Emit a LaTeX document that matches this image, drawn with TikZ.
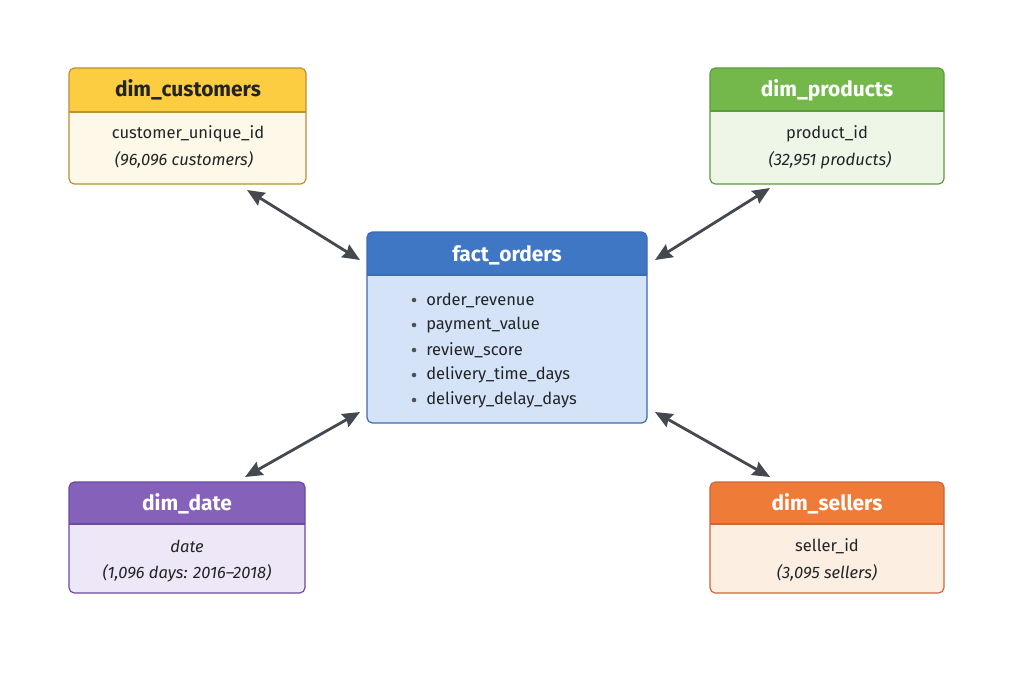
\documentclass[tikz,border=0pt]{standalone}
\usepackage{fontspec}
\setmainfont{Fira Sans}
\usetikzlibrary{arrows.meta,calc}
\definecolor{custHead}{HTML}{FCCD40}
\definecolor{custBody}{HTML}{FEF8E9}
\definecolor{custLine}{HTML}{B8913A}
\definecolor{prodHead}{HTML}{74B84C}
\definecolor{prodBody}{HTML}{EEF6E7}
\definecolor{prodLine}{HTML}{5E9A40}
\definecolor{factHead}{HTML}{3F77C4}
\definecolor{factBody}{HTML}{D4E3F7}
\definecolor{factLine}{HTML}{3A6DB3}
\definecolor{dateHead}{HTML}{8661BA}
\definecolor{dateBody}{HTML}{EEE7F7}
\definecolor{dateLine}{HTML}{6C4BA0}
\definecolor{sellHead}{HTML}{EE7C38}
\definecolor{sellBody}{HTML}{FDEEE2}
\definecolor{sellLine}{HTML}{C8693A}
\definecolor{txt}{HTML}{222428}
\definecolor{arr}{HTML}{43494F}
\tikzset{
  tbl/.style={rectangle, rounded corners=4pt, inner sep=0pt, outer sep=0pt, line width=0.9pt},
  headtxt/.style={font=\bfseries\fontsize{15.7}{18}\selectfont, inner sep=0pt},
  bodytxt/.style={font=\fontsize{12.4}{15}\selectfont, text=txt, inner sep=0pt},
  itxt/.style={font=\itshape\fontsize{12.4}{15}\selectfont, text=txt, inner sep=0pt},
  conn/.style={draw=arr, line width=2.1pt, {Stealth[length=13pt,width=11pt,inset=1.5pt]}-{Stealth[length=13pt,width=11pt,inset=1.5pt]}},
  dotb/.style={circle, fill=txt!80, inner sep=0pt, minimum size=3.4pt}
}
\begin{document}
\begin{tikzpicture}[x=0.75pt,y=-0.75pt]
\useasboundingbox[fill=white] (0,0) rectangle (1024,683);

% dim_customers
\node[tbl, fill=custBody, minimum width=177.75pt, minimum height=87pt] (cust) at (187.5,126) {};
\fill[custHead] ($(cust.north west)+(0,8)$) [rounded corners=4pt] -- (cust.north west) -- (cust.north east) [sharp corners] -- ($(cust.north east)+(0,44)$) -- ($(cust.north west)+(0,44)$) -- cycle;
\draw[custLine, line width=0.9pt] ($(cust.north west)+(0,44)$) -- ($(cust.north east)+(0,44)$);
\draw[custLine, tbl] (cust.south west) rectangle (cust.north east);
\node[headtxt, text=txt] (custh) at (188,90) {dim\_customers};
\node[bodytxt] (custb1) at (188,134) {customer\_unique\_id};
\node[itxt] (custb2) at (184,160) {(96,096 customers)};

% dim_products
\node[tbl, fill=prodBody, minimum width=175.5pt, minimum height=87pt] (prod) at (827,126) {};
\fill[prodHead] ($(prod.north west)+(0,8)$) [rounded corners=4pt] -- (prod.north west) -- (prod.north east) [sharp corners] -- ($(prod.north east)+(0,43)$) -- ($(prod.north west)+(0,43)$) -- cycle;
\draw[prodLine, line width=0.9pt] ($(prod.north west)+(0,43)$) -- ($(prod.north east)+(0,43)$);
\draw[prodLine, tbl] (prod.south west) rectangle (prod.north east);
\node[headtxt, text=white] (prodh) at (827,90) {dim\_products};
\node[bodytxt] (prodb1) at (827,134) {product\_id};
\node[itxt] (prodb2) at (830,160) {(32,951 products)};

% fact_orders
\node[tbl, fill=factBody, minimum width=210pt, minimum height=143.25pt] (fact) at (507,327.5) {};
\fill[factHead] ($(fact.north west)+(0,8)$) [rounded corners=4pt] -- (fact.north west) -- (fact.north east) [sharp corners] -- ($(fact.north east)+(0,43)$) -- ($(fact.north west)+(0,43)$) -- cycle;
\draw[factLine, line width=0.9pt] ($(fact.north west)+(0,43)$) -- ($(fact.north east)+(0,43)$);
\draw[factLine, tbl] (fact.south west) rectangle (fact.north east);
\node[headtxt, text=white] (facth) at (507,255) {fact\_orders};
\node[bodytxt, anchor=west] (f1) at (426,300) {order\_revenue};
\node[bodytxt, anchor=west] (f2) at (426,325) {payment\_value};
\node[bodytxt, anchor=west] (f3) at (426,350) {review\_score};
\node[bodytxt, anchor=west] (f4) at (426,375) {delivery\_time\_days};
\node[bodytxt, anchor=west] (f5) at (426,400) {delivery\_delay\_days};
\node[dotb] (d1) at (414,300) {};
\node[dotb] (d2) at (414,325) {};
\node[dotb] (d3) at (414,350) {};
\node[dotb] (d4) at (414,375) {};
\node[dotb] (d5) at (414,400) {};

% dim_date
\node[tbl, fill=dateBody, minimum width=177pt, minimum height=83.25pt] (date) at (187,537.5) {};
\fill[dateHead] ($(date.north west)+(0,8)$) [rounded corners=4pt] -- (date.north west) -- (date.north east) [sharp corners] -- ($(date.north east)+(0,42)$) -- ($(date.north west)+(0,42)$) -- cycle;
\draw[dateLine, line width=0.9pt] ($(date.north west)+(0,42)$) -- ($(date.north east)+(0,42)$);
\draw[dateLine, tbl] (date.south west) rectangle (date.north east);
\node[headtxt, text=white] (dateh) at (187,504) {dim\_date};
\node[itxt] (dateb1) at (187,546) {date};
\node[itxt] (dateb2) at (187,573) {(1,096 days: 2016--2018)};

% dim_sellers
\node[tbl, fill=sellBody, minimum width=175.5pt, minimum height=83.25pt] (sell) at (827,537.5) {};
\fill[sellHead] ($(sell.north west)+(0,8)$) [rounded corners=4pt] -- (sell.north west) -- (sell.north east) [sharp corners] -- ($(sell.north east)+(0,42)$) -- ($(sell.north west)+(0,42)$) -- cycle;
\draw[sellLine, line width=0.9pt] ($(sell.north west)+(0,42)$) -- ($(sell.north east)+(0,42)$);
\draw[sellLine, tbl] (sell.south west) rectangle (sell.north east);
\node[headtxt, text=white] (sellh) at (827,504) {dim\_sellers};
\node[bodytxt] (sellb1) at (827,546) {seller\_id};
\node[itxt] (sellb2) at (827,573) {(3,095 sellers)};

% connectors
\coordinate (ca) at ($(cust.south east)+(-59,6)$);
\coordinate (cb) at ($(fact.north west)+(-7,28)$);
\coordinate (pa) at ($(prod.south west)+(60,4)$);
\coordinate (pb) at ($(fact.north east)+(8,28)$);
\coordinate (da) at ($(date.north east)+(-60,-5)$);
\coordinate (db) at ($(fact.south west)+(-7,-11)$);
\coordinate (sa) at ($(sell.north west)+(60,-5)$);
\coordinate (sb) at ($(fact.south east)+(8,-11)$);
\draw[conn] (ca) -- (cb);
\draw[conn] (pa) -- (pb);
\draw[conn] (da) -- (db);
\draw[conn] (sa) -- (sb);
\end{tikzpicture}
\end{document}
